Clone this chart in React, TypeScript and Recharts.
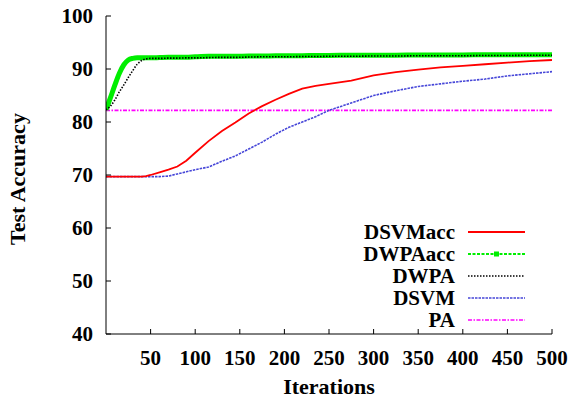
import React from 'react';
import { LineChart, Line, XAxis, YAxis } from 'recharts';

const iterations = [0, 5, 10, 15, 20, 25, 30, 35, 40, 45, 50, 60, 70, 80, 90, 100, 115, 130, 145, 160, 175, 190, 205, 220, 235, 250, 275, 300, 325, 350, 375, 400, 425, 450, 475, 500];
const dsvmAccValues = [69.7, 69.7, 69.7, 69.7, 69.7, 69.7, 69.7, 69.7, 69.7, 69.8, 70.0, 70.5, 71.0, 71.6, 72.7, 74.2, 76.4, 78.3, 79.9, 81.6, 83.0, 84.2, 85.3, 86.3, 86.8, 87.2, 87.8, 88.8, 89.4, 89.9, 90.3, 90.6, 90.9, 91.2, 91.5, 91.7];
const dwpaAccValues = [82.3, 84.6, 87.0, 89.2, 90.8, 91.7, 92.0, 92.1, 92.1, 92.1, 92.1, 92.15, 92.2, 92.2, 92.2, 92.3, 92.4, 92.4, 92.4, 92.45, 92.45, 92.5, 92.5, 92.5, 92.55, 92.55, 92.6, 92.6, 92.6, 92.65, 92.65, 92.65, 92.7, 92.7, 92.7, 92.7];
const dwpaValues = [82.3, 83.0, 84.2, 85.7, 87.0, 88.4, 89.7, 90.9, 91.6, 91.9, 92.0, 92.0, 92.05, 92.05, 92.1, 92.1, 92.15, 92.2, 92.2, 92.25, 92.3, 92.3, 92.3, 92.35, 92.35, 92.4, 92.4, 92.45, 92.45, 92.5, 92.5, 92.5, 92.55, 92.55, 92.6, 92.6];
const dsvmValues = [69.7, 69.7, 69.7, 69.7, 69.7, 69.7, 69.7, 69.7, 69.7, 69.7, 69.7, 69.7, 69.8, 70.2, 70.6, 71.0, 71.5, 72.6, 73.6, 74.9, 76.2, 77.7, 79.0, 80.0, 81.0, 82.2, 83.6, 85.0, 85.9, 86.7, 87.2, 87.7, 88.1, 88.7, 89.1, 89.5];
const paIterations = [0, 500];
const paValues = [82.2, 82.2];

const xTicks = [50, 100, 150, 200, 250, 300, 350, 400, 450, 500];
const yTicks = [40, 50, 60, 70, 80, 90, 100];

const legendLabels = ['DSVMacc', 'DWPAacc', 'DWPA', 'DSVM', 'PA'];

const data = iterations.map((it, i) => ({
  iter: it,
  dsvmAcc: dsvmAccValues[i],
  dwpaAcc: dwpaAccValues[i],
  dwpa: dwpaValues[i],
  dsvm: dsvmValues[i],
}));
const paData = paIterations.map((it, i) => ({ iter: it, pa: paValues[i] }));

const FONT = '"Liberation Serif", "Times New Roman", serif';

const styles = [
  { color: '#ff0000', width: 1.8, dash: undefined as string | undefined },
  { color: '#00ee00', width: 2, dash: '3 1.5' },
  { color: '#000000', width: 1.6, dash: '1.5 1.5' },
  { color: '#4646d8', width: 1.6, dash: '2.5 1' },
  { color: '#ff00ff', width: 1.6, dash: '4 1.5 1.5 1.5' },
];

const tickStyle = { fill: '#000', fontSize: 21, fontWeight: 'bold', fontFamily: FONT };

export default function App() {
  return (
    <div style={{ position: 'absolute', left: 0, top: 0, width: 573, height: 398, background: '#fff' }}>
      <LineChart width={573} height={398} data={data} margin={{ top: 16, right: 21, bottom: 0, left: 0 }}>
        <XAxis
          xAxisId="b"
          type="number"
          dataKey="iter"
          domain={[0, 500]}
          ticks={xTicks}
          allowDataOverflow
          height={64}
          tickSize={-5}
          tickMargin={21}
          axisLine={{ stroke: '#000' }}
          tickLine={{ stroke: '#000' }}
          tick={tickStyle}
          label={{
            content: (props: any) => {
              const vb = props.viewBox;
              return (
                <text x={vb.x + vb.width / 2} y={vb.y + 60} textAnchor="middle" fontFamily={FONT} fontWeight="bold" fontSize={22} fill="#000">
                  Iterations
                </text>
              );
            },
          }}
        />
        <XAxis
          xAxisId="t"
          orientation="top"
          type="number"
          dataKey="iter"
          domain={[0, 500]}
          ticks={xTicks}
          allowDataOverflow
          height={0}
          tickSize={-5}
          axisLine={{ stroke: '#000' }}
          tickLine={{ stroke: '#000' }}
          tick={false}
        />
        <YAxis
          yAxisId="l"
          type="number"
          domain={[40, 100]}
          ticks={yTicks}
          allowDataOverflow
          width={106}
          tickSize={-5}
          tickMargin={18}
          axisLine={{ stroke: '#000' }}
          tickLine={{ stroke: '#000' }}
          tick={tickStyle}
          label={{
            content: (props: any) => {
              const vb = props.viewBox;
              const cx = vb.x + 25;
              const cy = vb.y + vb.height / 2 + 4;
              return (
                <text x={cx} y={cy} transform={`rotate(-90, ${cx}, ${cy})`} textAnchor="middle" fontFamily={FONT} fontWeight="bold" fontSize={22} fill="#000">
                  Test Accuracy
                </text>
              );
            },
          }}
        />
        <YAxis
          yAxisId="r"
          orientation="right"
          type="number"
          domain={[40, 100]}
          ticks={yTicks}
          allowDataOverflow
          width={0}
          tickSize={-5}
          axisLine={{ stroke: '#000' }}
          tickLine={{ stroke: '#000' }}
          tick={false}
        />
        <Line xAxisId="b" yAxisId="l" data={paData} dataKey="pa" type="linear" stroke={styles[4].color} strokeWidth={styles[4].width} strokeDasharray={styles[4].dash} dot={false} isAnimationActive={false} />
        <Line xAxisId="b" yAxisId="l" dataKey="dsvm" type="linear" stroke={styles[3].color} strokeWidth={styles[3].width} strokeDasharray={styles[3].dash} dot={false} isAnimationActive={false} />
        <Line xAxisId="b" yAxisId="l" dataKey="dsvmAcc" type="linear" stroke={styles[0].color} strokeWidth={styles[0].width} dot={false} isAnimationActive={false} />
        <Line xAxisId="b" yAxisId="l" dataKey="dwpaAcc" type="monotone" stroke={styles[1].color} strokeWidth={5} dot={false} isAnimationActive={false} />
        <Line xAxisId="b" yAxisId="l" dataKey="dwpa" type="monotone" stroke={styles[2].color} strokeWidth={styles[2].width} strokeDasharray={styles[2].dash} dot={false} isAnimationActive={false} />
      </LineChart>
      <svg width={573} height={398} style={{ position: 'absolute', left: 0, top: 0, pointerEvents: 'none' }}>
        {legendLabels.map((label, i) => {
          const cy = 232 + i * 22;
          const s = styles[i];
          return (
            <g key={label}>
              <text x={455} y={cy + 7} textAnchor="end" fontFamily={FONT} fontWeight="bold" fontSize={21} fill="#000">
                {label}
              </text>
              <line x1={468} x2={525} y1={cy} y2={cy} stroke={s.color} strokeWidth={s.width} strokeDasharray={s.dash} />
              {i === 1 && <rect x={494} y={cy - 2.5} width={5} height={5} fill={s.color} />}
            </g>
          );
        })}
      </svg>
    </div>
  );
}
